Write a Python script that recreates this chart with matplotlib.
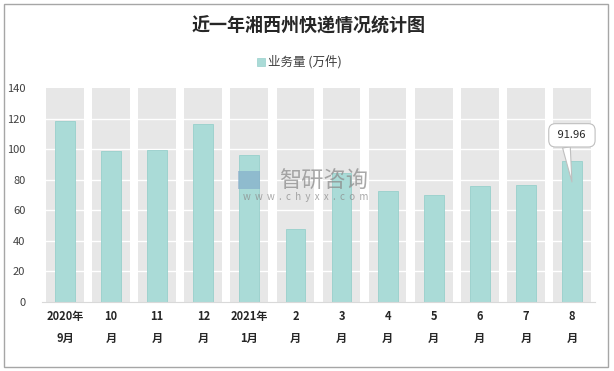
import matplotlib.pyplot as plt
from matplotlib.patches import Rectangle
import numpy as np

plt.rcParams['font.family'] = ['Noto Sans CJK SC', 'DejaVu Sans']

# data
months = ['2020年\n9月', '10\n月', '11\n月', '12\n月', '2021年\n1月', '2\n月',
          '3\n月', '4\n月', '5\n月', '6\n月', '7\n月', '8\n月']
volume = [118.6, 98.6, 99.7, 116.2, 96.0, 47.5, 84.2, 72.4, 69.8, 75.7, 76.3, 91.96]
y_ticks = [0, 20, 40, 60, 80, 100, 120, 140]
y_max = 140

fig = plt.figure(figsize=(6.14, 3.71), dpi=100)
fig.patch.set_facecolor('white')
fig.patches.append(Rectangle((0.006, 0.012), 0.984, 0.978, transform=fig.transFigure,
                             fill=False, ec='#a6a6a6', lw=1.0))

ax = fig.add_axes([0.0684, 0.186, 0.9006, 0.577])
x = np.arange(len(months))

# gray background columns
ax.bar(x, [y_max] * len(x), width=0.82, color='#e7e7e7', zorder=1)
for t in y_ticks[1:-1]:
    ax.axhline(t, color='white', lw=1.0, zorder=2)
ax.bar(x, volume, width=0.43, color='#aadbd7', edgecolor='#98d0cc', lw=0.6, zorder=3)

ax.set_xlim(-0.5, len(x) - 0.5)
ax.set_ylim(0, y_max)
ax.set_yticks(y_ticks)
ax.set_xticks(x)
ax.set_xticklabels(months, fontsize=8, fontweight='bold', color='#262626', linespacing=1.9)
ax.tick_params(axis='y', length=0, pad=12, labelsize=8, labelcolor='#404040')
ax.tick_params(axis='x', length=0, pad=6)
for s in ['top', 'right', 'left']:
    ax.spines[s].set_visible(False)
ax.spines['bottom'].set_color('#d9d9d9')
ax.spines['bottom'].set_zorder(4)

# callout on last bar
ax.annotate(f' {volume[-1]:.2f} ', xy=(x[-1], 78.5), xytext=(x[-1], 109),
            ha='center', va='center', fontsize=8, color='#262626', zorder=6,
            bbox=dict(boxstyle='round,pad=0.6,rounding_size=0.6', fc='white', ec='#bfbfbf', lw=0.8),
            arrowprops=dict(arrowstyle='wedge,tail_width=0.7', fc='white', ec='#bfbfbf', lw=0.8,
                            relpos=(0.3, 0.0), shrinkA=0, shrinkB=0))

# watermark
fig.text(0.527, 0.51, '智研咨询', ha='center', va='center', fontsize=16,
         color='#8c8c8c', alpha=0.75, zorder=10)
fig.text(0.498, 0.468, 'w  w  w  .  c  h  y  x  x  .  c  o  m', ha='center', va='center',
         fontsize=7, color='#8c8c8c', alpha=0.75, zorder=10)
fig.patches.append(Rectangle((0.388, 0.49), 0.036, 0.048, transform=fig.transFigure,
                             fc='#7ea6c8', ec='none', alpha=0.6, zorder=10))

fig.text(0.503, 0.93, '近一年湘西州快递情况统计图', ha='center', va='center',
         fontsize=13, fontweight='bold', color='#262626')
fig.patches.append(Rectangle((0.419, 0.822), 0.013, 0.022, transform=fig.transFigure,
                             fc='#aadbd7', ec='#98d0cc', lw=0.5))
fig.text(0.436, 0.833, '业务量 (万件)', ha='left', va='center', fontsize=9, color='#404040')

fig.savefig('out.png', dpi=100)
